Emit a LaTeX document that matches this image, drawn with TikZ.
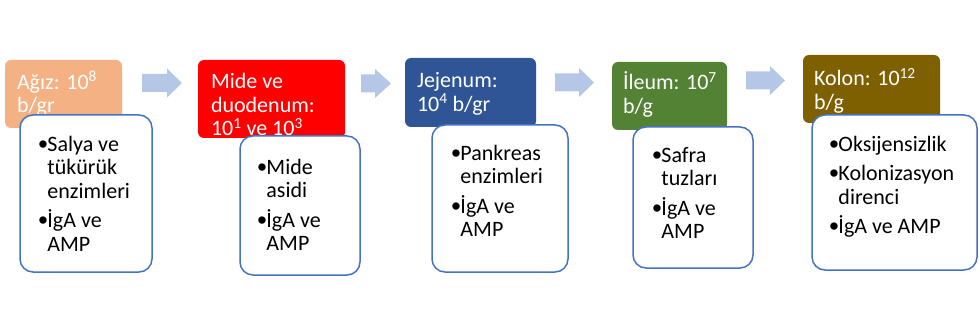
\documentclass[tikz,border=0pt]{standalone}
\usepackage{fontspec}
\setmainfont{Carlito}
\newfontfamily\dotfont{Liberation Sans}
\usetikzlibrary{calc}
\definecolor{StageMouth}{HTML}{F4B183}
\definecolor{StageStomach}{HTML}{FF0000}
\definecolor{StageJejunum}{HTML}{2F5597}
\definecolor{StageIleum}{HTML}{548235}
\definecolor{StageColon}{HTML}{7F6000}
\definecolor{FlowArrow}{HTML}{B4C7E7}
\definecolor{FactorEdge}{HTML}{4472C4}
\newcommand{\itemdot}{\makebox[9pt][l]{\raisebox{-1.6pt}{\dotfont\fontsize{27}{23.5}\selectfont\textbullet}}}
\newcommand{\itemgap}{\hspace*{9pt}}
\tikzset{
  every node/.style={font=\fontsize{22}{23.5}\selectfont},
  stage/.style={draw=none, rounded corners=6pt, inner sep=0pt},
  stagetext/.style={anchor=north west, inner sep=0pt, align=left, text=white},
  factor/.style={draw=FactorEdge, line width=1.5pt, fill=white, rounded corners=13pt, inner sep=0pt},
  factortext/.style={anchor=north west, inner sep=0pt, align=left, text=black},
  flow/.style={fill=FlowArrow, draw=none},
}
\begin{document}
\begin{tikzpicture}[x=1pt, y=-1pt]
  \useasboundingbox (0,0) rectangle (979,323);
  % Block arrows between the stages
  \foreach \xa/\xh/\xt/\ym in {142/167/182/83, 361/375/391/83.5, 555/579/594/82.5, 746/770/785/80.5} {
    \fill[flow] (\xa,\ym-9) -- (\xh,\ym-9) -- (\xh,\ym-14.5) -- (\xt,\ym)
      -- (\xh,\ym+14.5) -- (\xh,\ym+9) -- (\xa,\ym+9) -- cycle;
  }
  % Mouth
  \node[stage, fill=StageMouth, minimum width=117pt, minimum height=68pt] (agiz) at (63.5,94) {};
  \node[stagetext] (agiztext) at ([xshift=12pt,yshift=-11pt]agiz.north west)
    {\rule{0pt}{18pt}Ağız: 10\textsuperscript{8}\\b/gr};
  \node[factor, minimum width=132pt, minimum height=157pt] (agizf) at (86,193.5) {};
  \node[factortext] (agizftext) at ([xshift=19pt,yshift=-19pt]agizf.north west)
    {\rule{0pt}{18pt}\itemdot Salya ve\\\itemgap tükürük\\\itemgap enzimleri\\[6pt]\itemdot İgA ve\\\itemgap AMP};
  % Stomach and duodenum
  \node[stage, fill=StageStomach, minimum width=147pt, minimum height=78pt] (mide) at (271.5,99) {};
  \node[stagetext] (midetext) at ([xshift=13pt,yshift=-11pt]mide.north west)
    {\rule{0pt}{18pt}Mide ve\\duodenum:\\10\textsuperscript{1} ve 10\textsuperscript{3}\\b/gr};
  \node[factor, minimum width=120pt, minimum height=139pt] (midef) at (300,205.5) {};
  \node[factortext] (mideftext) at ([xshift=18pt,yshift=-21pt]midef.north west)
    {\rule{0pt}{18pt}\itemdot Mide\\\itemgap asidi\\[6pt]\itemdot İgA ve\\\itemgap AMP};
  % Jejunum
  \node[stage, fill=StageJejunum, minimum width=131pt, minimum height=69pt] (jejenum) at (470.5,92.5) {};
  \node[stagetext] (jejenumtext) at ([xshift=12pt,yshift=-12pt]jejenum.north west)
    {\rule{0pt}{18pt}Jejenum:\\10\textsuperscript{4} b/gr};
  \node[factor, minimum width=136pt, minimum height=147pt] (jejenumf) at (500,198.5) {};
  \node[factortext] (jejenumftext) at ([xshift=20pt,yshift=-18pt]jejenumf.north west)
    {\rule{0pt}{18pt}\itemdot Pankreas\\\itemgap enzimleri\\[6pt]\itemdot İgA ve\\\itemgap AMP};
  % Ileum
  \node[stage, fill=StageIleum, minimum width=115pt, minimum height=68pt] (ileum) at (669.5,96) {};
  \node[stagetext] (ileumtext) at ([xshift=11pt,yshift=-10pt]ileum.north west)
    {\rule{0pt}{18pt}İleum: 10\textsuperscript{7}\\b/g};
  \node[factor, minimum width=120pt, minimum height=141pt] (ileumf) at (693,197.5) {};
  \node[factortext] (ileumftext) at ([xshift=20pt,yshift=-18pt]ileumf.north west)
    {\rule{0pt}{18pt}\itemdot Safra\\\itemgap tuzları\\[6pt]\itemdot İgA ve\\\itemgap AMP};
  % Colon
  \node[stage, fill=StageColon, minimum width=137pt, minimum height=68pt] (kolon) at (871.5,89) {};
  \node[stagetext] (kolontext) at ([xshift=11pt,yshift=-13pt]kolon.north west)
    {\rule{0pt}{18pt}Kolon: 10\textsuperscript{12}\\b/g};
  \node[factor, minimum width=165pt, minimum height=155pt] (kolonf) at (894.5,192.5) {};
  \node[factortext] (kolonftext) at ([xshift=18pt,yshift=-19pt]kolonf.north west)
    {\rule{0pt}{18pt}\itemdot Oksijensizlik\\[6pt]\itemdot Kolonizasyon\\\itemgap direnci\\[6pt]\itemdot İgA ve AMP};
\end{tikzpicture}
\end{document}
